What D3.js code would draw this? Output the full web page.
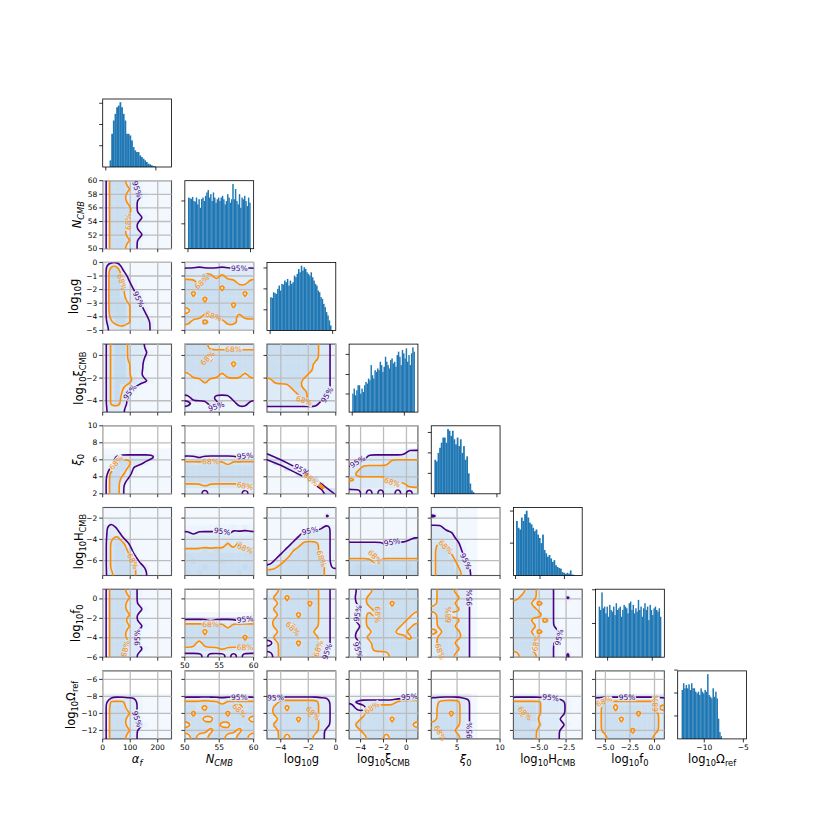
<!DOCTYPE html>
<html>
<head>
<meta charset="utf-8">
<script src="https://cdn.jsdelivr.net/npm/d3@7"></script>
<style>
  body { margin: 0; background: #fff; }
  text { font-family: "DejaVu Sans", sans-serif; }
</style>
</head>
<body>
<svg id="fig" width="830" height="830"></svg>
<script>
// --- parameters ---
const paramRanges = [[0,250],[50,60],[-5,0],[-5,1],[2,10],[-7.4,-1],[-6,1],[-13,-5]];
const majorX = [[0,100,200],[50,55,60],[-4,-2,0],[-4,-2,0],[5,10],[-5,-2.5],[-5,-2.5,0],[-10,-5]];
const majorY = [[],[50,52,54,56,58,60],[-5,-4,-3,-2,-1,0],[-4,-2,0],[2,4,6,8,10],[-6,-4,-2],[-6,-4,-2,0],[-12,-10,-8,-6]];
const xFormats = ['d','d','d','d','d','.1f','.1f','d'];

// --- 1D histograms (bar heights) ---
const histAlpha = [20,100,140,160,180,185,195,180,160,140,100,100,95,80,60,50,45,45,35,30,25,20,15,10,8,5,3,2];
const histNcmb = [150,148,146,152,140,138,150,130,145,120,146,150,140,155,165,172,150,160,140,165,150,135,145,150,140,150,155,145,130,140,160,150,135,145,190,145,175,140,130,160,120,150,145,155,140,125,150,135];
const histLogG = [100,98,115,112,110,125,135,120,140,138,150,145,155,135,150,140,145,165,160,170,185,175,195,180,190,185,175,170,165,175,160,150,140,135,120,115,100,95,80,70,55,45,30,15];
const histXiCmb = [55,70,50,65,80,80,55,70,60,80,90,85,100,95,140,110,100,125,120,130,125,150,140,120,135,165,150,140,130,155,160,145,150,135,170,180,165,140,185,175,160,190,150,170,140,175,193,180];
const histXi0 = [100,95,120,135,150,165,165,150,190,185,170,185,160,145,165,140,160,120,140,100,110,60,30,10,5];
const histLogH = [160,140,135,170,160,180,190,170,155,150,140,130,135,120,110,95,120,75,65,55,60,50,40,45,30,25,22,20,10,8,5,8,5,15,3,2];
const histLogF0 = [150,140,192,145,150,130,150,120,155,140,135,150,125,160,140,145,150,120,140,155,150,145,130,160,165,140,155,130,145,135,170,140,150,120,145,160,140,150,110,155,140,125,145,150,140,135,145,120];
const histLogOmega = [145,165,150,160,150,162,145,165,150,150,140,135,140,130,150,140,135,145,140,192,130,125,120,150,125,140,120,60,20,8];
const histBinSpan = [[15,200],[50,60],[-5,-0.1],[-5,1],[2,7.1],[-7.45,-1.45],[-6,1],[-12.9,-7.75]];
const histXTicks = [[0,200],[50,60],[-5,0],[-5,0],[2,10],[-7.5,-5,-2.5],[-5,0],[-10,-5]];
const histYTicks = [[64,128,192],[73,140],[62,125,188],[54,112,172],[60,120,180],[95,189],[100,200],[68,136,204]];

// --- 2D densities: '.' no samples, 0-2 outside 95%, 3-5 inside 95%, 6-9 inside 68% ---
const g10 = ["277744100000","277764100000","277744410000","277744100000","277764100000","277774100000","277744410000","277764100000","277744100000","277744410000","277764100000","277744100000"];
const g20 = ["255100000000","288300000000","288520000000","288531000000","288642000000","288643100000","288744200000","288864310000","288864420000","278864431000","258864442000","144544442000"];
const g30 = ["268854420000","268854431000","268854420000","268864410000","268864410000","268864310000","268875431000","268643100000","268531000000","268420000000","267420000000","244310000000"];
const g40 = ["............","............","............","............","000000000000","113444444100","116774420000","137752000000","177641000000","277420000000","277300000000","277300000000"];
const g50 = ["000000000000","000000000000","022000000000","242000000000","244100000000","257310000000","267730000000","267751000000","267763000000","267775200000","267776420000","257776430000"];
const g60 = ["277744100000","277764100000","277744100000","277744410000","277764100000","277744100000","277764410000","277744100000","277744100000","277764100000","277744410000","277744100000"];
const g70 = ["............","............","............","............","122222100000","266644100000","277744100000","277764100000","277744100000","277744410000","277764100000","277744100000"];
const g21 = ["112111211111","444444444444","444774744444","774777777447","777777477777","747777777747","777477777777","777777774777","477777777777","777447777477","744744477444","444444444444"];
const g31 = ["777744444444","777777777777","777747777777","777777774777","777777777777","477777477747","444744444444","444444444444","444444444444","144441114444","411144111441","111111111111"];
const g41 = ["............","............","............","............","000000000000","332333333233","666666646666","777777777777","777777777777","777777777777","555655555565","333233333323"];
const g51 = ["000000000000","000000000000","000000000000","111111112121","323333323333","444444444444","444444464744","666767666666","777777777777","787777877777","777877777787","878777777877"];
const g61 = ["............","............","............","............","000000000000","333323333233","777777747777","777477777777","777777777747","774777777777","555555655555","222322232322"];
const g71 = ["............","............","............","............","222222222222","666766466666","776477777467","747777747777","777447777774","477777447777","777747777477","474477744774"];
const g32 = ["777777777441","777777777441","777777777441","777777774441","777777774441","777777744441","477777444441","444477444441","444447744441","444444744411","444444444111","111111111111"];
const g42 = ["............","............","............","............","000000000000","400000000000","054000000000","000540000000","000004500000","000000066000","000000000700","000000000066"];
const g52 = ["000000000000","000000000030","000000000000","000000000241","000000444441","000004444441","000044777441","000457777441","004477777441","044777777741","457777777742","777777777744"];
const g62 = ["347777777441","477477777441","447777747441","477777777441","447774777441","477777777441","477747777441","447777774441","477777777441","147774777441","447777777441","147777774411"];
const g72 = ["............","............","............","............","222222222221","447777777441","477477777441","477777747441","447774777441","477777777441","447777777411","447477774411"];
const g43 = ["............","............","............","............","000000000033","000444444444","034444477777","447777777777","477777777777","644444477777","444444444477","223232332323"];
const g53 = ["000000000000","000000000000","000000000000","000000000000","000000000000","000000000023","444444244444","444444444444","444464444444","777747777777","788888877787","888888888888"];
const g63 = ["134477777777","144777777777","134777747777","114477777777","134747777774","144777777744","114777777447","134477774477","144777777747","114477777777","134477777777","113444477777"];
const g73 = ["............","............","............","............","000000000022","234444446777","411477777777","444777777777","447777747777","477777777774","447777777777","444777477777"];
const g54 = ["00000000....","30000000....","00000000....","44100000....","44430000....","44442000....","56444100....","57744200....","57764300....","57775410....","57776430....","57777540...."];
const g64 = ["47774430....","47777430....","47774430....","77777430....","47744430....","47777430....","47774430....","74777430....","47777530....","47774430....","47777430....","44774430...."];
const g74 = ["............","............","............","............","22222220....","46777430....","47777430....","47747430....","47777430....","77777430....","47774430....","44777430...."];
const g65 = ["447744410000","477744410300","777474410000","777744410000","777774410000","777447410000","777744410000","777474441000","777744441000","777744410000","777444410000","477744410300"];
const g75 = ["............","............","............","............","222222220000","666664444100","777764444100","747764444100","777754441000","777664444100","777744441000","777744441000"];
const g76 = ["............","............","............","............","222222222222","466666666664","477477777747","477777747774","477747777774","477777777774","477777477774","447777777744"];

// thin ridge in log10g vs xi0, contour outlines read directly
const ridge95 = [[-5.2,6.85],[-5,6.7],[-4,6.0],[-3,5.2],[-2.5,4.8],[-2,4.3],[-1.5,3.7],[-1,3.1],[-0.5,2.5],[-0.1,2.0],[0.05,1.7],[-0.7,1.7],[-1,2.45],[-1.5,3.05],[-2,3.65],[-2.5,4.15],[-3,4.55],[-4,5.35],[-5,6.0],[-5.2,6.15]];
const ridge68 = [[-2.3,4.55],[-1.8,4.0],[-1.4,3.5],[-1.0,2.95],[-0.85,2.72],[-0.95,2.62],[-1.35,3.15],[-1.8,3.7],[-2.3,4.3]];

// contour label spots: [row, col, level, x, y]
const labelSpots = [
  [1,0,95,20,53.3],[1,0,95,135,59],[1,0,68,27,59],[1,0,68,92,53.8],
  [2,0,95,135,-2.4],[2,0,95,20,-4.2],[2,0,68,80,-1.5],
  [3,0,95,20,-4.5],[3,0,95,99,-3.4],[3,0,68,27,0.2],
  [4,0,95,18,3.2],[4,0,68,44,5.4],
  [5,0,95,18,-6.2],[5,0,68,99,-5.9],
  [6,0,95,130,-3.9],[6,0,95,15,-5.2],[6,0,68,25,-0.4],[6,0,68,89,-5.4],
  [7,0,95,132,-10.5],[7,0,68,25,-12.4],
  [2,1,95,58.1,-0.4],[2,1,68,52.4,-1.5],[2,1,68,54,-4.2],
  [3,1,95,54.5,-4.4],[3,1,68,57.4,0.5],[3,1,68,52,-0.7],
  [4,1,95,58.6,6.4],[4,1,68,53.8,5.8],[4,1,68,58.9,3.2],
  [5,1,95,55.5,-3.3],[5,1,68,58.6,-4.8],
  [6,1,95,58.8,-2.1],[6,1,68,53.7,-2.6],[6,1,68,58.8,-5.0],
  [7,1,95,58,-8.1],[7,1,68,57.8,-10.5],
  [3,2,95,-0.44,-3.2],[3,2,68,-2.3,-3.9],
  [4,2,95,-2.6,4.9],[4,2,68,-1.6,3.6],
  [5,2,95,-2.0,-3.4],[5,2,68,-1.3,-6.1],
  [6,2,95,-0.4,-3.9],[6,2,68,-3.1,-3.5],[6,2,68,-1.3,-4.9],
  [7,2,95,-4.7,-8.1],[7,2,68,-1.7,-9.9],
  [4,3,95,-4.15,5.4],[4,3,95,-3.7,2.4],[4,3,68,-1.1,3.1],
  [5,3,95,-1.2,-4.3],[5,3,68,-2.7,-5.9],
  [6,3,95,-4.4,-5.2],[6,3,95,-4.6,-1.8],[6,3,68,-2.1,-1.6],
  [7,3,95,0.4,-8.1],[7,3,68,-2.7,-9.7],
  [5,4,95,6.0,-6.3],[5,4,68,2.9,-5.5],
  [6,4,95,6.4,0.25],[6,4,68,2.9,-1.1],[6,4,68,3.5,-5.2],
  [7,4,95,6.4,-12.2],[7,4,68,2.9,-12.2],
  [6,5,95,-3.4,-3.9],[6,5,68,-4.85,-5.0],
  [7,5,95,-3.9,-8.1],[7,5,68,-5.9,-9.8],
  [7,6,95,-2.55,-8.15],[7,6,68,-5.6,-9.5],[7,6,68,0.55,-9.1]
];

// --- layout ---
const colLeft = j => 102.7 + 82.14 * j;
const rowTop = i => 99 + 81.7 * i;
const PW = 68.8, PH = 68;
const yLabelX = [0, 81, 78, 83, 81, 83, 80, 75];
const C95 = '#4b0082', C68 = '#ff8c00';

const hists = [histAlpha, histNcmb, histLogG, histXiCmb, histXi0, histLogH, histLogF0, histLogOmega];
const panels = [
  [1,0,g10],[2,0,g20,'t'],[3,0,g30],[4,0,g40],[5,0,g50],[6,0,g60],[7,0,g70],
  [2,1,g21],[3,1,g31],[4,1,g41],[5,1,g51],[6,1,g61],[7,1,g71],
  [3,2,g32],[4,2,g42],[5,2,g52],[6,2,g62],[7,2,g72],
  [4,3,g43],[5,3,g53],[6,3,g63],[7,3,g73],
  [5,4,g54],[6,4,g64],[7,4,g74],
  [6,5,g65],[7,5,g75],
  [7,6,g76]
];
const axisLabels = [
  [['α','i'],['f','si']],
  [['N','i'],['CMB','si']],
  [['log',''],['10','s'],['g','']],
  [['log',''],['10','s'],['ξ',''],['CMB','s']],
  [['ξ','i'],['0','s']],
  [['log',''],['10','s'],['H',''],['CMB','s']],
  [['log',''],['10','s'],['f',''],['0','s']],
  [['log',''],['10','s'],['Ω',''],['ref','s']]
];

const svg = d3.select('#fig');
const defs = svg.append('defs');
const heatColor = v => d3.interpolateBlues(0.02 + v * 0.028);
const cellVal = ch => ch === '.' ? 0 : +ch;

function ticksOn(g, xs, ys, xt, yt, x0, y0) {
  g.selectAll(null).data(xt).join('line')
    .attr('x1', d => xs(d)).attr('x2', d => xs(d))
    .attr('y1', y0 + PH).attr('y2', y0 + PH + 3.5)
    .attr('stroke', '#000').attr('stroke-width', 0.8);
  g.selectAll(null).data(yt).join('line')
    .attr('y1', d => ys(d)).attr('y2', d => ys(d))
    .attr('x1', x0).attr('x2', x0 - 3.5)
    .attr('stroke', '#000').attr('stroke-width', 0.8);
}

function frame(g, x0, y0, col) {
  g.append('rect').attr('x', x0).attr('y', y0).attr('width', PW).attr('height', PH)
    .attr('fill', 'none').attr('stroke', col || '#000').attr('stroke-width', col ? 1.1 : 0.8);
}

// rings of one contour level, in fractions of the panel (x right, y down)
function levelRings(grid, level, pad) {
  const m = grid.length, n = grid[0].length, N = n + 2, M = m + 2;
  const vals = new Array(N * M);
  for (let y = 0; y < M; y++) for (let x = 0; x < N; x++) {
    const gy = Math.min(m - 1, Math.max(0, y - 1)), gx = Math.min(n - 1, Math.max(0, x - 1));
    let v = cellVal(grid[gy][gx]);
    if ((y === 0 && pad.includes('t')) || (y === M - 1 && pad.includes('b')) ||
        (x === 0 && pad.includes('l')) || (x === N - 1 && pad.includes('r'))) v = 0;
    vals[y * N + x] = v;
  }
  const mp = d3.contours().size([N, M]).thresholds([level])(vals)[0];
  const rings = [];
  mp.coordinates.forEach(poly => poly.forEach(ring => {
    rings.push(ring.map(([px, py]) => [(px - 1) / n, (py - 1) / m]));
  }));
  return rings;
}

// --- diagonal histograms ---
hists.forEach((h, k) => {
  const x0 = colLeft(k), y0 = rowTop(k);
  const [a, b] = paramRanges[k], pad = (b - a) * 0.05;
  const xs = d3.scaleLinear().domain([a - pad, b + pad]).range([x0, x0 + PW]);
  const ys = d3.scaleLinear().domain([0, d3.max(h) * 1.05]).range([y0 + PH, y0]);
  const [s0, s1] = histBinSpan[k], bw = (s1 - s0) / h.length;
  const g = svg.append('g');
  g.selectAll('rect.bar').data(h).join('rect').attr('class', 'bar')
    .attr('x', (d, i) => xs(s0 + i * bw))
    .attr('width', (d, i) => xs(s0 + (i + 1) * bw) - xs(s0 + i * bw) + 0.15)
    .attr('y', d => ys(d)).attr('height', d => ys(0) - ys(d))
    .attr('fill', '#1f77b4');
  frame(g, x0, y0);
  ticksOn(g, xs, ys, histXTicks[k], histYTicks[k], x0, y0);
  if (k === 7) {
    g.selectAll('text.xt').data(histXTicks[k]).join('text').attr('class', 'xt')
      .attr('x', d => xs(d)).attr('y', y0 + PH + 11).attr('text-anchor', 'middle')
      .attr('font-size', 7.5).text(d => d3.format(xFormats[k])(d));
  }
});

// --- 2D panels ---
panels.forEach(([i, j, grid, pad]) => {
  pad = pad || '';
  const x0 = colLeft(j), y0 = rowTop(i);
  const [xa, xb] = paramRanges[j], [ya, yb] = paramRanges[i];
  const xs = d3.scaleLinear().domain([xa, xb]).range([x0, x0 + PW]);
  const ys = d3.scaleLinear().domain([ya, yb]).range([y0 + PH, y0]);
  const m = grid.length, n = grid[0].length;
  const dx = (xb - xa) / n, dy = (yb - ya) / m;
  const id = `p${i}${j}`;
  defs.append('clipPath').attr('id', 'c' + id).append('rect')
    .attr('x', x0).attr('y', y0).attr('width', PW).attr('height', PH);

  const g = svg.append('g');
  const cells = [];
  grid.forEach((row, r) => [...row].forEach((ch, c) => { if (ch !== '.') cells.push({ r, c, v: +ch }); }));
  g.append('g').selectAll('rect').data(cells).join('rect')
    .attr('x', d => xs(xa + d.c * dx))
    .attr('y', d => ys(yb - d.r * dy))
    .attr('width', d => xs(xa + (d.c + 1) * dx) - xs(xa + d.c * dx) + 0.4)
    .attr('height', d => ys(yb - (d.r + 1) * dy) - ys(yb - d.r * dy) + 0.4)
    .attr('fill', d => heatColor(d.v));

  frame(g, x0, y0, '#555');
  // grid lines
  const gx = majorX[j].filter(v => v >= xa - 1e-9 && v <= xb + 1e-9);
  const gy = majorY[i].filter(v => v >= ya - 1e-9 && v <= yb + 1e-9);
  g.selectAll('line.gx').data(gx).join('line').attr('class', 'gx')
    .attr('x1', d => xs(d)).attr('x2', d => xs(d)).attr('y1', y0).attr('y2', y0 + PH)
    .attr('stroke', '#bdbdbd').attr('stroke-width', 1.3);
  g.selectAll('line.gy').data(gy).join('line').attr('class', 'gy')
    .attr('y1', d => ys(d)).attr('y2', d => ys(d)).attr('x1', x0).attr('x2', x0 + PW)
    .attr('stroke', '#bdbdbd').attr('stroke-width', 1.3);

  // contour rings in pixel coordinates
  const toPx = ring => ring.map(([fx, fy]) => [xs(xa + fx * (xb - xa)), ys(yb - fy * (yb - ya))]);
  const ridge = grid === g42;
  let rings95, rings68;
  if (ridge) {
    rings95 = [ridge95.map(([a, b]) => [xs(a), ys(b)])];
    rings68 = [ridge68.map(([a, b]) => [xs(a), ys(b)])];
  } else {
    rings95 = levelRings(grid, 2.5, pad).map(toPx);
    rings68 = levelRings(grid, 5.5, pad).map(toPx);
  }

  // label placement
  const labs = [];
  labelSpots.filter(s => s[0] === i && s[1] === j).forEach(([, , lev, lx, ly]) => {
    const rings = lev === 95 ? rings95 : rings68;
    const px = xs(lx), py = ys(ly);
    let best = null, bd = 1e9;
    rings.forEach(ring => ring.forEach((p, k) => {
      if (p[0] < x0 + 8 || p[0] > x0 + PW - 8 || p[1] < y0 + 5 || p[1] > y0 + PH - 5) return;
      const d = Math.hypot(p[0] - px, p[1] - py);
      if (d < bd) { bd = d; best = { ring, k }; }
    }));
    if (!best || bd > 16) return;
    const { ring, k } = best;
    const L = ring.length;
    const pa = ring[(k - 2 + L) % L], pb = ring[(k + 2) % L];
    let ang = Math.atan2(pb[1] - pa[1], pb[0] - pa[0]) * 180 / Math.PI;
    if (ang > 90) ang -= 180;
    if (ang < -90) ang += 180;
    labs.push({ x: ring[k][0], y: ring[k][1], a: ang, lev });
  });

  const mask = defs.append('mask').attr('id', 'm' + id).attr('maskUnits', 'userSpaceOnUse')
    .attr('x', 0).attr('y', 0).attr('width', 830).attr('height', 830);
  mask.append('rect').attr('x', x0 - 5).attr('y', y0 - 5).attr('width', PW + 10).attr('height', PH + 10).attr('fill', '#fff');
  labs.forEach(l => mask.append('rect').attr('x', -9).attr('y', -4).attr('width', 18).attr('height', 8)
    .attr('fill', '#000').attr('transform', `translate(${l.x},${l.y}) rotate(${l.a})`));

  const cg = g.append('g').attr('clip-path', `url(#c${id})`).append('g').attr('mask', `url(#m${id})`);
  const line = d3.line().curve(ridge ? d3.curveLinearClosed : d3.curveBasisClosed);
  cg.selectAll('path.c95').data(rings95).join('path').attr('class', 'c95')
    .attr('d', d => line(d)).attr('fill', 'none').attr('stroke', C95)
    .attr('stroke-width', 1.6).attr('stroke-linejoin', 'round');
  cg.selectAll('path.c68').data(rings68).join('path').attr('class', 'c68')
    .attr('d', d => line(d)).attr('fill', 'none').attr('stroke', C68)
    .attr('stroke-width', 1.6).attr('stroke-linejoin', 'round');
  g.selectAll('text.lab').data(labs).join('text').attr('class', 'lab')
    .attr('transform', d => `translate(${d.x},${d.y}) rotate(${d.a})`)
    .attr('text-anchor', 'middle').attr('dominant-baseline', 'central')
    .attr('font-size', 7.5).attr('fill', d => d.lev === 95 ? C95 : C68)
    .text(d => d.lev + '%');

  ticksOn(g, xs, ys, gx, gy, x0, y0);
  // tick labels
  if (j === 0) {
    g.selectAll('text.yt').data(gy).join('text').attr('class', 'yt')
      .attr('x', x0 - 5.5).attr('y', d => ys(d)).attr('text-anchor', 'end')
      .attr('dominant-baseline', 'central').attr('font-size', 7.5)
      .text(d => d3.format('d')(d));
  }
  if (i === 7 || (i === 6 && j === 1)) {
    g.selectAll('text.xt').data(gx).join('text').attr('class', 'xt')
      .attr('x', d => xs(d)).attr('y', y0 + PH + 11).attr('text-anchor', 'middle')
      .attr('font-size', 7.5).text(d => d3.format(xFormats[j])(d));
  }
});

// --- axis labels ---
function richText(t, parts, size) {
  let shift = 0;
  parts.forEach(([s, st]) => {
    const sub = st.startsWith('s');
    const want = sub ? size * 0.3 : 0;
    t.append('tspan').attr('dy', want - shift)
      .attr('font-size', sub ? size * 0.72 : size)
      .attr('font-style', st.endsWith('i') ? 'italic' : 'normal')
      .text(s);
    shift = want;
  });
}
axisLabels.forEach((parts, k) => {
  const tx = svg.append('text').attr('x', colLeft(k) + PW / 2).attr('y', 763)
    .attr('text-anchor', 'middle').attr('font-size', 11.5);
  richText(tx, parts, 11.5);
  if (k > 0) {
    const cy = rowTop(k) + PH / 2;
    const ty = svg.append('text').attr('text-anchor', 'middle').attr('font-size', 11.5)
      .attr('transform', `translate(${yLabelX[k]},${cy}) rotate(-90)`);
    richText(ty, parts, 11.5);
  }
});
</script>
</body>
</html>
